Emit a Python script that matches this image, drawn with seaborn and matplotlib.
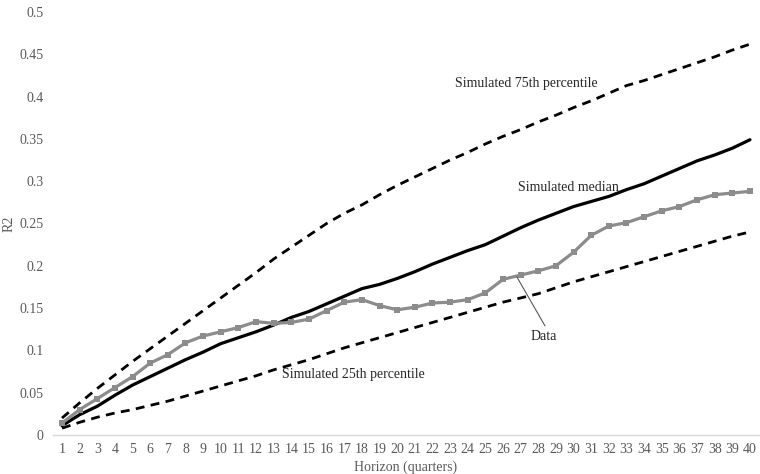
import matplotlib
matplotlib.use("Agg")
import matplotlib.pyplot as plt
from matplotlib.ticker import FuncFormatter, MultipleLocator
import numpy as np
import pandas as pd
import seaborn as sns

# Forecast horizon in quarters
horizon = list(range(1, 41))

# R2 of the actual data at each horizon
data_r2 = [0.014, 0.030, 0.043, 0.056, 0.069, 0.085, 0.095, 0.109, 0.117, 0.122,
           0.127, 0.134, 0.132, 0.133, 0.137, 0.147, 0.157, 0.160, 0.153, 0.148,
           0.151, 0.156, 0.157, 0.160, 0.168, 0.184, 0.189, 0.194, 0.200, 0.216,
           0.236, 0.247, 0.251, 0.258, 0.265, 0.270, 0.278, 0.284, 0.286, 0.288]

# Simulated distribution of R2
sim_median = [0.011, 0.024, 0.034, 0.047, 0.059, 0.069, 0.079, 0.089, 0.098, 0.108,
              0.115, 0.122, 0.130, 0.139, 0.146, 0.155, 0.164, 0.173, 0.178, 0.185,
              0.193, 0.202, 0.210, 0.218, 0.225, 0.235, 0.245, 0.254, 0.262, 0.270,
              0.276, 0.282, 0.290, 0.297, 0.306, 0.315, 0.324, 0.331, 0.339, 0.349]

sim_p75 = [0.020, 0.038, 0.055, 0.071, 0.087, 0.102, 0.117, 0.132, 0.147, 0.162,
           0.177, 0.192, 0.208, 0.222, 0.236, 0.250, 0.262, 0.272, 0.284, 0.295,
           0.305, 0.315, 0.325, 0.334, 0.344, 0.353, 0.361, 0.370, 0.378, 0.387,
           0.395, 0.404, 0.413, 0.419, 0.426, 0.433, 0.440, 0.447, 0.455, 0.462]

sim_p25 = [0.008, 0.015, 0.021, 0.026, 0.030, 0.035, 0.040, 0.046, 0.052, 0.058,
           0.064, 0.070, 0.077, 0.083, 0.089, 0.096, 0.103, 0.109, 0.115, 0.121,
           0.127, 0.133, 0.139, 0.145, 0.151, 0.157, 0.162, 0.167, 0.174, 0.181,
           0.187, 0.193, 0.199, 0.205, 0.211, 0.217, 0.223, 0.229, 0.235, 0.240]

df = pd.DataFrame({
    "horizon": horizon,
    "data": data_r2,
    "median": sim_median,
    "p75": sim_p75,
    "p25": sim_p25,
})

sns.set_theme(style="white")
plt.rcParams["font.family"] = ["Liberation Serif", "DejaVu Serif"]

fig = plt.figure(figsize=(7.6, 4.74), dpi=100)
ax = fig.add_axes([0.070, 0.0823, 0.9284, 0.8924])

dash = (3.2, 2.3)
sns.lineplot(data=df, x="horizon", y="p75", ax=ax, color="black", lw=2.0,
             linestyle=(0, dash))
sns.lineplot(data=df, x="horizon", y="p25", ax=ax, color="black", lw=2.0,
             linestyle=(0, dash))
sns.lineplot(data=df, x="horizon", y="median", ax=ax, color="black", lw=2.3)
sns.lineplot(data=df, x="horizon", y="data", ax=ax, color="#8c8c8c", lw=2.3,
             marker="s", markersize=4.5, markeredgewidth=0)

ax.set_xlim(0.5, 40.5)
ax.set_ylim(0, 0.5)
ax.xaxis.set_major_locator(MultipleLocator(1))
ax.yaxis.set_major_locator(MultipleLocator(0.05))
ax.yaxis.set_major_formatter(FuncFormatter(lambda v, _: f"{round(v, 2):g}"))
ax.tick_params(axis="both", length=0, labelsize=10, labelcolor="#595959")
ax.tick_params(axis="x", pad=6)
ax.tick_params(axis="y", pad=7)

for side in ("top", "right", "left"):
    ax.spines[side].set_visible(False)
ax.spines["bottom"].set_color("#d9d9d9")
ax.spines["bottom"].set_linewidth(1.0)
ax.grid(False)

ax.set_xlabel("Horizon (quarters)", fontsize=10, color="#595959", labelpad=3)
ax.set_ylabel("R2", fontsize=10, color="#595959", labelpad=3)

txt = dict(fontsize=10, color="#262626", ha="center", va="center")
ax.text(27.3, 0.415, "Simulated 75th percentile", **txt)
ax.text(29.7, 0.292, "Simulated median", **txt)
ax.text(17.5, 0.071, "Simulated 25th percentile", **txt)
ax.text(28.3, 0.117, "Data", **txt)
ax.plot([26.78, 28.38], [0.187, 0.129], color="#595959", lw=0.8)

fig.savefig("out.png", dpi=100)
